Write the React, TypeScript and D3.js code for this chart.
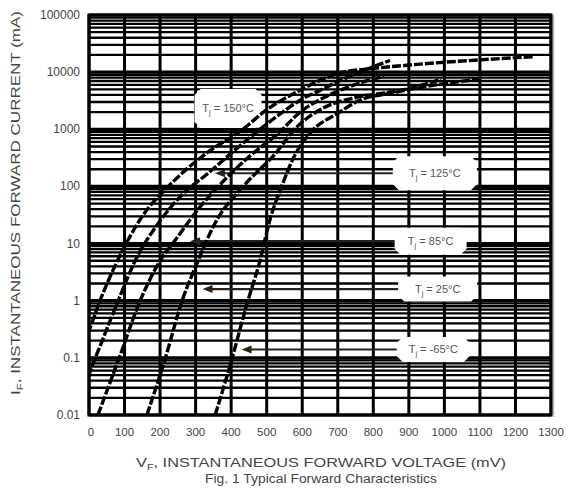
import { useEffect, useRef } from 'react'
import * as d3 from 'd3'

// tick values
const xTicks = [0, 100, 200, 300, 400, 500, 600, 700, 800, 900, 1000, 1100, 1200, 1300]
const yDecades = [0.01, 0.1, 1, 10, 100, 1000, 10000, 100000]
const yTickLabels = ['0.01', '0.1', '1', '10', '100', '1000', '10000', '100000']

// series: [mV, mA]
const t150: [number, number][] = [
  [-30, 0.12], [0, 0.3], [31, 1], [80, 5], [150, 30], [230, 110], [330, 380], [433, 1000],
  [500, 2200], [594, 4800], [700, 9500], [800, 11600], [900, 13300], [1000, 14900],
  [1100, 16400], [1250, 18600],
]
const t125: [number, number][] = [
  [-20, 0.02], [0, 0.05], [40, 0.22], [82, 1], [130, 5], [200, 25], [270, 80], [330, 160],
  [400, 380], [481, 1000], [540, 1900], [594, 3240], [650, 4800], [700, 6800], [762, 10000],
  [847, 16000],
]
const t85: [number, number][] = [
  [25, 0.01], [85, 0.1], [144, 1], [200, 5], [245, 12], [300, 35], [370, 110], [450, 330],
  [537, 900], [594, 2000], [650, 3300], [720, 5200], [780, 7000], [830, 8500],
]
const t25: [number, number][] = [
  [163, 0.01], [215, 0.1], [262, 1], [307, 5], [350, 20], [440, 110], [520, 350], [585, 1100],
  [650, 2200], [750, 3600], [850, 4500], [903, 5200], [990, 7500],
]
const tm65: [number, number][] = [
  [355, 0.01], [396, 0.07], [445, 0.9], [481, 5], [509, 26], [542, 100], [577, 330], [625, 900],
  [700, 1900], [762, 3240], [850, 4300], [903, 5000], [1000, 6300], [1072, 7200], [1100, 7600],
]
const seriesList = [t150, t125, t85, t25, tm65]

// temperature labels: box corner in mV / mA, arrow tip in mV
const labelTemps = ['150°C', '125°C', '85°C', '25°C', '-65°C']
const boxLeftMv = [297, 855, 860, 870, 866]
const boxCenterMa = [2300, 170, 11, 1.6, 0.14]
const boxWidths = [67, 84, 72, 79, 73]
const boxHeights = [39, 34, 27, 25, 25]
const arrowTips: (number | null)[] = [null, 360, 290, 325, 435]

const W = 569
const H = 495
const left = 89
const right = 551
const top = 15
const bottom = 415
const FONT = 'Liberation Sans, Arial, Helvetica, sans-serif'

export default function App() {
  const ref = useRef<SVGSVGElement>(null)

  useEffect(() => {
    if (!ref.current) return
    const svg = d3.select(ref.current)
    svg.selectAll('*').remove()

    const x = d3.scaleLinear().domain([0, 1300]).range([left, right])
    const y = d3.scaleLog().domain([0.01, 100000]).range([bottom, top])

    svg.append('rect').attr('width', W).attr('height', H).attr('fill', '#fff')

    // horizontal grid, 1..9 per decade
    const minor: number[] = []
    yDecades.slice(0, -1).forEach(d => {
      for (let k = 1; k <= 9; k++) minor.push(d * k)
    })
    minor.push(100000)
    svg.append('g')
      .selectAll('line')
      .data(minor)
      .join('line')
      .attr('x1', left).attr('x2', right)
      .attr('y1', d => y(d)).attr('y2', d => y(d))
      .attr('stroke', '#000')
      .attr('stroke-width', d => (Math.abs(Math.log10(d) - Math.round(Math.log10(d))) < 1e-6 ? 3.2 : 2.3))

    // vertical grid
    svg.append('g')
      .selectAll('line')
      .data(xTicks)
      .join('line')
      .attr('x1', d => x(d)).attr('x2', d => x(d))
      .attr('y1', top).attr('y2', bottom)
      .attr('stroke', '#000')
      .attr('stroke-width', 3)

    // frame
    svg.append('rect')
      .attr('x', left).attr('y', top)
      .attr('width', right - left).attr('height', bottom - top)
      .attr('fill', 'none')
      .attr('stroke', '#000')
      .attr('stroke-width', 3)
    svg.append('line')
      .attr('x1', right + 2.5).attr('x2', right + 2.5)
      .attr('y1', top).attr('y2', bottom + 2)
      .attr('stroke', '#bbb').attr('stroke-width', 1.5)

    // label boxes and arrows
    labelTemps.forEach((t, i) => {
      const bw = boxWidths[i]
      const bh = boxHeights[i]
      const bx = x(boxLeftMv[i])
      const cy = y(boxCenterMa[i])
      const by = cy - bh / 2
      const c = 6
      const tip = arrowTips[i]
      if (tip !== null) {
        svg.append('line')
          .attr('x1', x(tip) + 4).attr('x2', bx + 4)
          .attr('y1', cy).attr('y2', cy)
          .attr('stroke', '#2a2218').attr('stroke-width', 2.2)
        svg.append('path')
          .attr('d', `M${x(tip) - 2},${cy} l10,-4 l0,8 z`)
          .attr('fill', '#2a2218')
      }
      svg.append('path')
        .attr('d', `M${bx + c},${by} H${bx + bw - c} L${bx + bw},${by + c} V${by + bh - c} L${bx + bw - c},${by + bh} H${bx + c} L${bx},${by + bh - c} V${by + c} Z`)
        .attr('fill', '#fff')
      const txt = svg.append('text')
        .attr('x', bx + bw / 2)
        .attr('y', cy + 3.5)
        .attr('text-anchor', 'middle')
        .attr('font-family', FONT)
        .attr('font-size', 11)
        .attr('fill', '#555')
      txt.append('tspan').text('T')
      txt.append('tspan').attr('font-size', 7.5).attr('dy', 3).text('j')
      txt.append('tspan').attr('dy', -3).text(` = ${t}`)
    })

    // curves
    svg.append('clipPath').attr('id', 'plotclip')
      .append('rect')
      .attr('x', left).attr('y', top)
      .attr('width', right - left).attr('height', bottom - top)

    const line = d3.line<[number, number]>()
      .x(d => x(d[0]))
      .y(d => y(d[1]))
      .curve(d3.curveMonotoneX)

    svg.append('g')
      .attr('clip-path', 'url(#plotclip)')
      .selectAll('path')
      .data(seriesList)
      .join('path')
      .attr('d', d => line(d))
      .attr('fill', 'none')
      .attr('stroke', '#000')
      .attr('stroke-width', 3.4)
      .attr('stroke-dasharray', '9 2')

    // y tick labels
    svg.append('g')
      .selectAll('text')
      .data(yDecades)
      .join('text')
      .attr('x', 80)
      .attr('y', d => y(d) + 4)
      .attr('text-anchor', 'end')
      .attr('font-family', FONT)
      .attr('font-size', 12)
      .attr('fill', '#444')
      .text((d, i) => yTickLabels[i])

    // x tick labels
    svg.append('g')
      .selectAll('text')
      .data(xTicks)
      .join('text')
      .attr('x', d => x(d) + (d === 0 ? 2 : 0))
      .attr('y', 436)
      .attr('text-anchor', 'middle')
      .attr('font-family', FONT)
      .attr('font-size', 11.5)
      .attr('fill', '#444')
      .text(d => String(d))

    // axis titles
    const xt = svg.append('text')
      .attr('x', 321).attr('y', 467)
      .attr('text-anchor', 'middle')
      .attr('font-family', FONT)
      .attr('font-size', 13.5)
      .attr('fill', '#444')
      .attr('textLength', 370)
      .attr('lengthAdjust', 'spacingAndGlyphs')
    xt.append('tspan').text('V')
    xt.append('tspan').attr('font-size', 9).attr('dy', 3).text('F')
    xt.append('tspan').attr('dy', -3).text(', INSTANTANEOUS FORWARD VOLTAGE (mV)')

    svg.append('text')
      .attr('x', 321).attr('y', 483)
      .attr('text-anchor', 'middle')
      .attr('font-family', FONT)
      .attr('font-size', 12.5)
      .attr('fill', '#444')
      .attr('textLength', 232)
      .attr('lengthAdjust', 'spacingAndGlyphs')
      .text('Fig. 1 Typical Forward Characteristics')

    const yt = svg.append('text')
      .attr('transform', `translate(20, 203) rotate(-90)`)
      .attr('text-anchor', 'middle')
      .attr('font-family', FONT)
      .attr('font-size', 13.5)
      .attr('fill', '#444')
      .attr('textLength', 384)
      .attr('lengthAdjust', 'spacingAndGlyphs')
    yt.append('tspan').text('I')
    yt.append('tspan').attr('font-size', 9).attr('dy', 3).text('F')
    yt.append('tspan').attr('dy', -3).text(', INSTANTANEOUS FORWARD CURRENT (mA)')
  }, [])

  return (
    <svg
      ref={ref}
      width={W}
      height={H}
      viewBox={`0 0 ${W} ${H}`}
      style={{ position: 'absolute', left: 0, top: 0, display: 'block' }}
    />
  )
}
